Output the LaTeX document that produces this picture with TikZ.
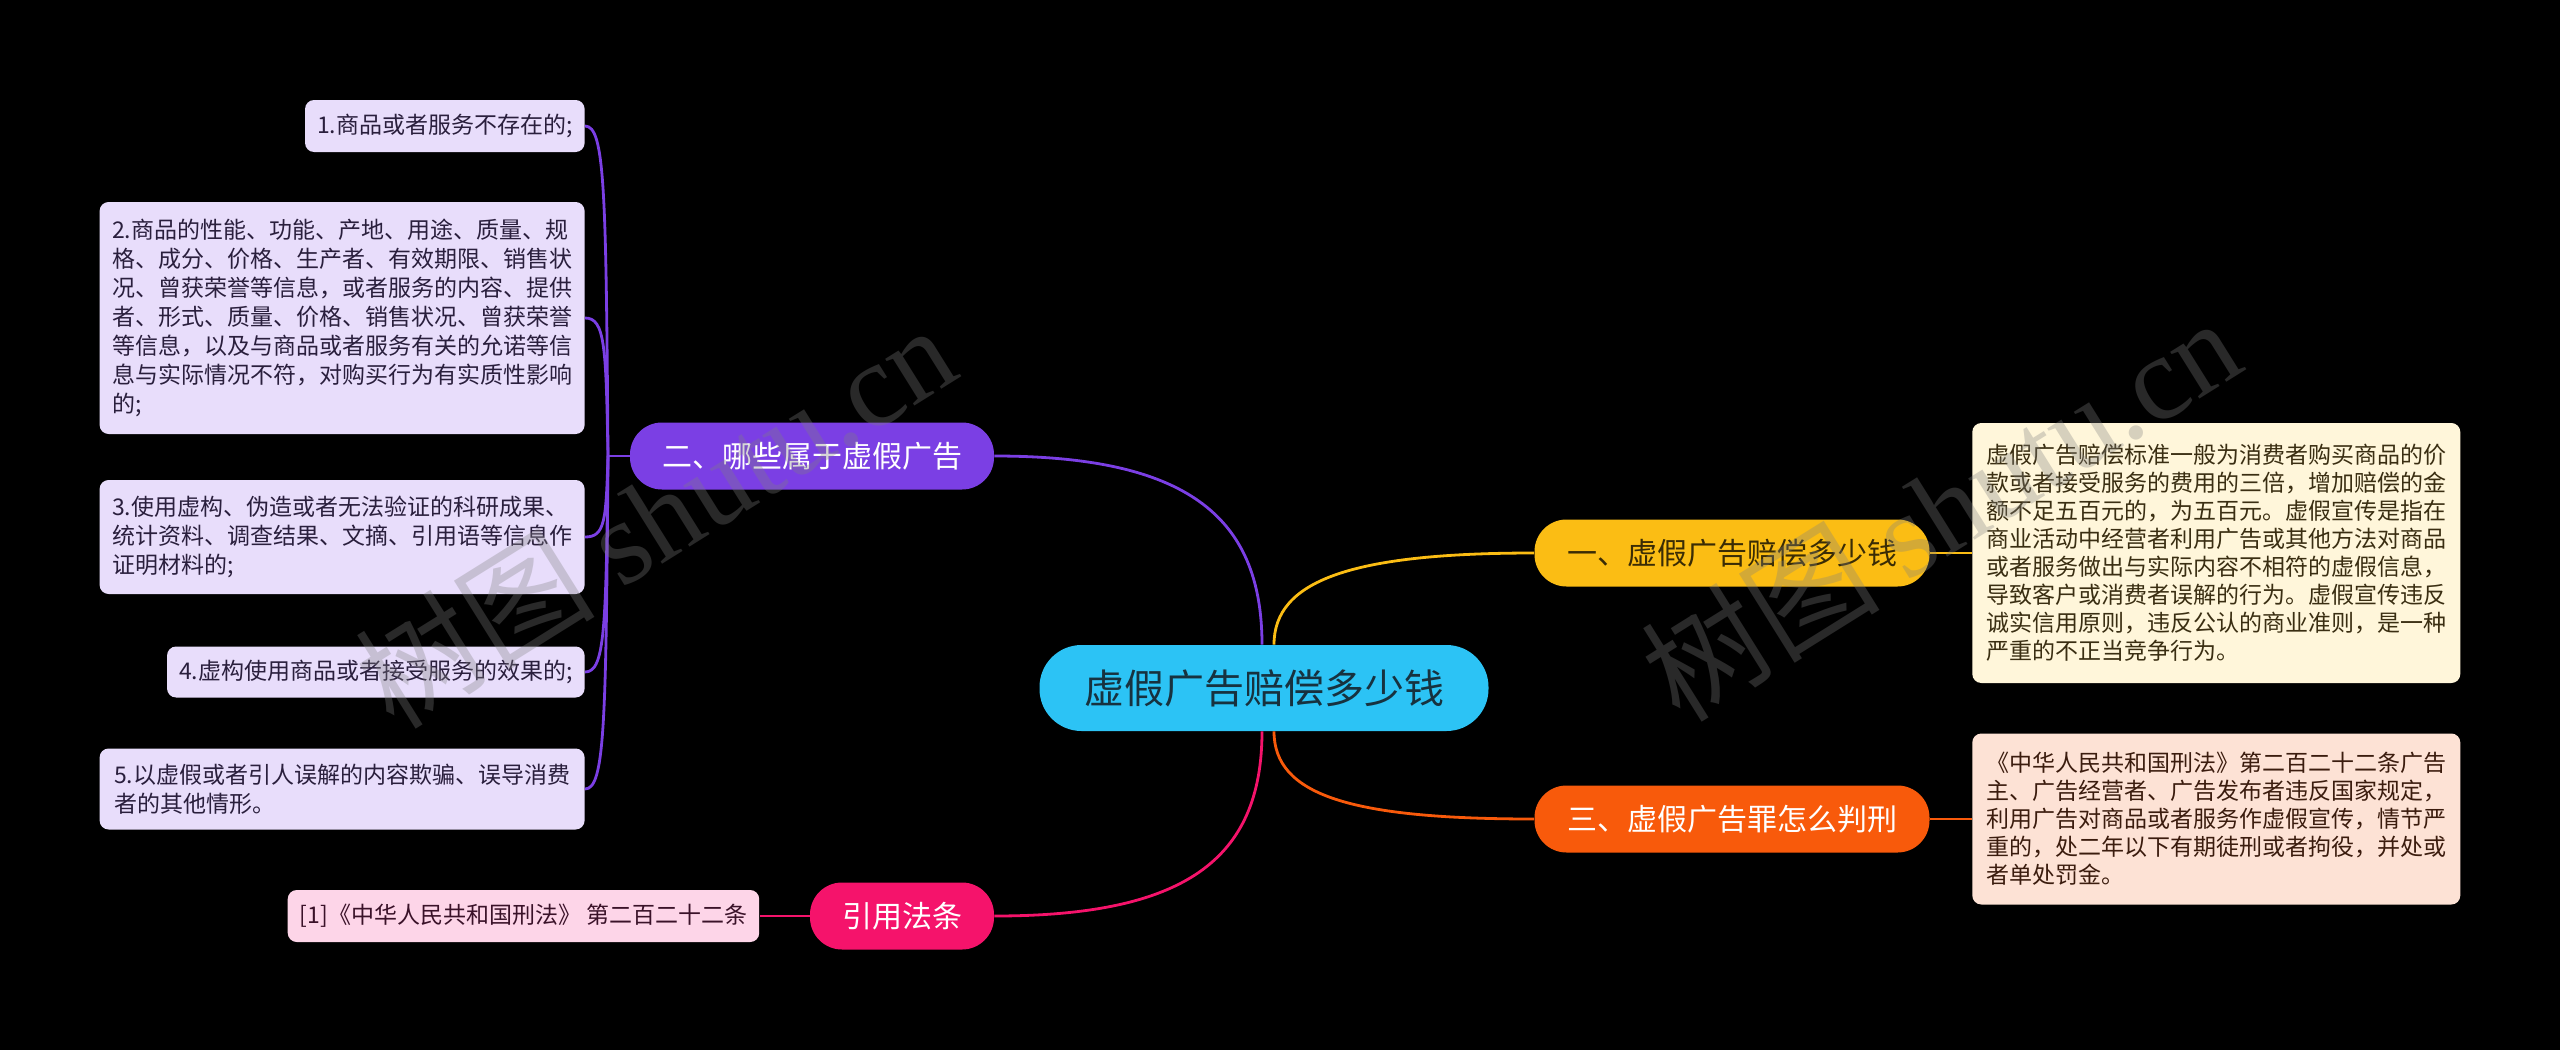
\documentclass[tikz,border=0pt]{standalone}
\usepackage{fontspec}
\setmainfont{Noto Sans CJK SC}
\newfontfamily\wmlatin{Liberation Serif}
\usepackage{tikz}
\usetikzlibrary{positioning}
\definecolor{rootblue}{HTML}{2CC3F5}
\definecolor{roottext}{HTML}{17323F}
\definecolor{purp}{HTML}{7B3FE4}
\definecolor{amber}{HTML}{FBBD14}
\definecolor{ambertext}{HTML}{3A2C05}
\definecolor{orng}{HTML}{F85A0B}
\definecolor{rose}{HTML}{F5136B}
\definecolor{lavender}{HTML}{E8DDFB}
\definecolor{lavtext}{HTML}{2A1F3D}
\definecolor{cream}{HTML}{FFF6DA}
\definecolor{creamtext}{HTML}{3A2E12}
\definecolor{peach}{HTML}{FDE2D5}
\definecolor{peachtext}{HTML}{3B1C0E}
\definecolor{pinkbg}{HTML}{FDD5E8}
\definecolor{pinktext}{HTML}{3A1229}
\newcommand\Wm{gray}

\begin{document}
\begin{tikzpicture}[x=0.5pt, y=-0.5pt,
    root/.style={fill=rootblue, text=roottext, rounded corners=21pt, minimum width=224.5pt, minimum height=43pt, font=\fontsize{20pt}{24pt}\selectfont},
    branch/.style={rounded corners=16pt, minimum height=33.5pt, inner xsep=4pt, font=\fontsize{15pt}{18pt}\selectfont},
    leaf/.style={rounded corners=4.5pt, align=left, inner xsep=6pt, inner ysep=4pt, font=\fontsize{11.5pt}{14.5pt}\selectfont},
    lleaf/.style={leaf, fill=lavender, text=lavtext, anchor=east},
    rleaf/.style={leaf, minimum width=244pt, font=\fontsize{11.5pt}{14pt}\selectfont},
    conn/.style={line width=1.4pt},
    wm/.style={text=\Wm, text opacity=0.32, font=\fontsize{60pt}{66pt}\selectfont}]
  \fill[black] (0,0) rectangle (2560,1050);
  \useasboundingbox (0,0) rectangle (2560,1050);

  % centre and main branches
  \node[root] (root) at (1264,688) {虚假广告赔偿多少钱};
  \node[branch, fill=purp, text=white, minimum width=182pt] (k2) at (812,456) {二、哪些属于虚假广告};
  \node[branch, fill=amber, text=ambertext, minimum width=197.5pt] (k1) at (1732,553) {一、虚假广告赔偿多少钱};
  \node[branch, fill=orng, text=white, minimum width=197.5pt] (k3) at (1732,819) {三、虚假广告罪怎么判刑};
  \node[branch, fill=rose, text=white, minimum width=92pt] (kref) at (902,916) {引用法条};

  % left leaves
  \node[lleaf, minimum width=139pt, minimum height=26pt] (l1) at (585,126) {1.商品或者服务不存在的;};
  \node[lleaf, minimum width=242.5pt, minimum height=116pt] (l2) at (585,318) {2.商品的性能、功能、产地、用途、质量、规\\格、成分、价格、生产者、有效期限、销售状\\况、曾获荣誉等信息，或者服务的内容、提供\\者、形式、质量、价格、销售状况、曾获荣誉\\等信息，以及与商品或者服务有关的允诺等信\\息与实际情况不符，对购买行为有实质性影响\\的;};
  \node[lleaf, minimum width=242.5pt, minimum height=57pt] (l3) at (585,537) {3.使用虚构、伪造或者无法验证的科研成果、\\统计资料、调查结果、文摘、引用语等信息作\\证明材料的;};
  \node[lleaf, minimum width=208.5pt, minimum height=25.5pt] (l4) at (585,672) {4.虚构使用商品或者接受服务的效果的;};
  \node[lleaf, minimum width=242.5pt, minimum height=40.5pt] (l5) at (585,789) {5.以虚假或者引人误解的内容欺骗、误导消费\\者的其他情形。};

  % right leaves
  \node[rleaf, fill=cream, text=creamtext, minimum height=130pt, right=21pt of k1] (r1) {虚假广告赔偿标准一般为消费者购买商品的价\\款或者接受服务的费用的三倍，增加赔偿的金\\额不足五百元的，为五百元。虚假宣传是指在\\商业活动中经营者利用广告或其他方法对商品\\或者服务做出与实际内容不相符的虚假信息，\\导致客户或消费者误解的行为。虚假宣传违反\\诚实信用原则，违反公认的商业准则，是一种\\严重的不正当竞争行为。};
  \node[rleaf, fill=peach, text=peachtext, minimum height=85.5pt, right=21pt of k3] (r3) {《中华人民共和国刑法》第二百二十二条广告\\主、广告经营者、广告发布者违反国家规定，\\利用广告对商品或者服务作虚假宣传，情节严\\重的，处二年以下有期徒刑或者拘役，并处或\\者单处罚金。};
  \node[leaf, fill=pinkbg, text=pinktext, minimum width=235pt, minimum height=26pt, left=25pt of kref] (ref1) {[1]《中华人民共和国刑法》 第二百二十二条};

  % connectors
  \draw[conn, purp] ([xshift=-1pt]root.north) .. controls +(0,-130) and +(190,0) .. (k2.east);
  \draw[conn, amber] ([xshift=5pt]root.north) .. controls +(0,-64) and +(-183,0) .. (k1.west);
  \draw[conn, orng] ([xshift=5pt]root.south) .. controls +(0,64) and +(-183,0) .. (k3.west);
  \draw[conn, rose] ([xshift=-1pt]root.south) .. controls +(0,130) and +(188,0) .. (kref.east);

  \coordinate (s2) at (608,456);
  \draw[conn, purp] (k2.west) -- (s2);
  \foreach \n/\d in {l1/-264, l2/-110, l3/65, l4/173, l5/266}
    \draw[conn, purp] (s2) .. controls +(-2,\d) and +(20,0) .. (\n.east);

  \draw[conn, amber] (k1.east) -- (r1.west);
  \draw[conn, orng] (k3.east) -- (r3.west);
  \draw[conn, rose] (kref.west) -- (ref1.east);

  % watermark
  \node[wm, rotate=32] (wm1) at (655,515) {树图 {\wmlatin shutu.cn}};
  \node[wm, rotate=32] (wm2) at (1940,508) {树图 {\wmlatin shutu.cn}};
\end{tikzpicture}
\end{document}
